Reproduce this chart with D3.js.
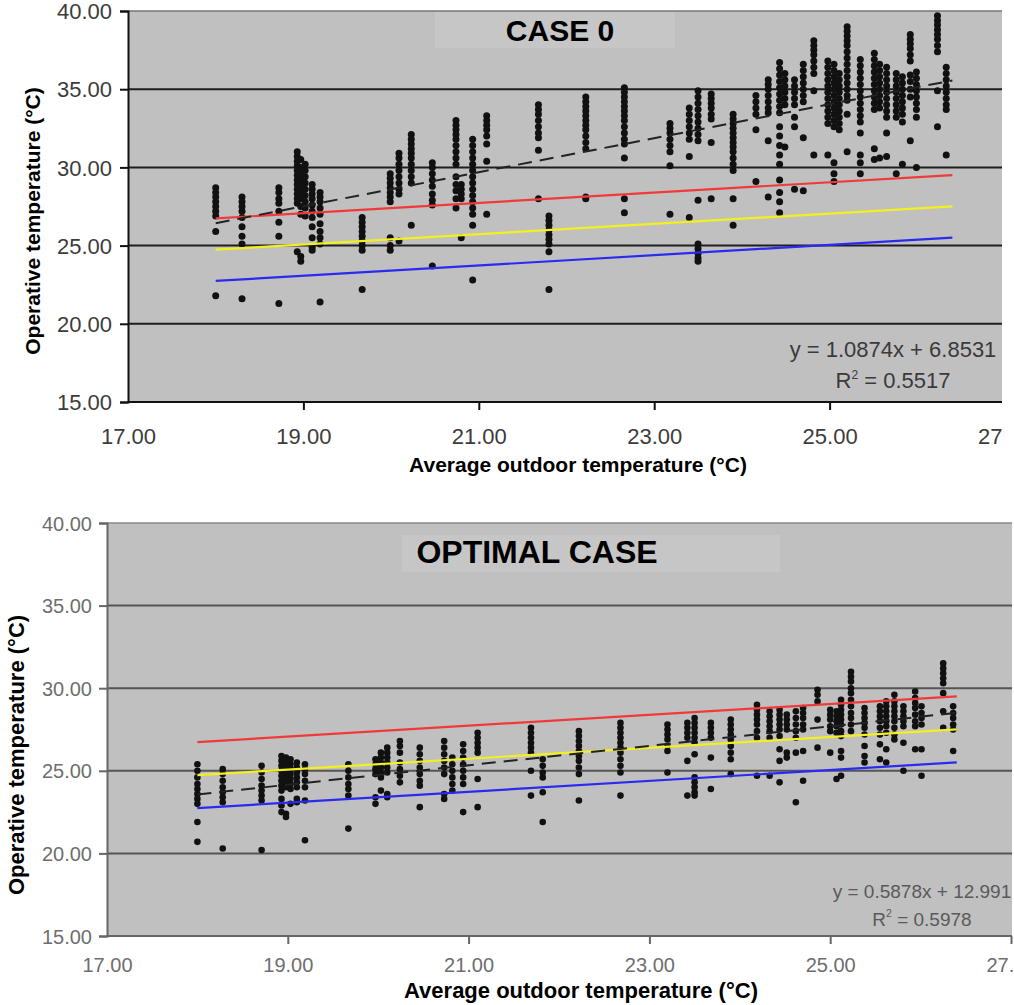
<!DOCTYPE html>
<html>
<head>
<meta charset="utf-8">
<script src="https://cdn.jsdelivr.net/npm/d3@7"></script>
<style>
  body { margin: 0; background: #fff; }
  svg { display: block; font-family: Arial, "Liberation Sans", sans-serif; }
</style>
</head>
<body>
<svg id="chart"></svg>
<script>
const WIDTH = 1014
const HEIGHT = 1005

// x axis ticks and y axis ticks shared by both charts
const xTicks = [17, 19, 21, 23, 25, 27]
const yTicks = [15, 20, 25, 30, 35, 40]

// comfort band lines (start / end of the outdoor temperature range)
const bandX = [18.0, 26.4]
const upperLimit = [26.74, 29.51]
const neutralLine = [24.74, 27.51]
const lowerLimit = [22.74, 25.51]

// trend lines for each case
const trendCase0 = [26.43, 35.56]
const trendOptimal = [23.57, 28.51]

const eqCase0 = ["y = 1.0874x + 6.8531", "0.5517"]
const eqOptimal = ["y = 0.5878x + 12.991", "0.5978"]

// CASE 0: each entry is [outdoor temp, operative temps measured that day]
const case0 = [
  [18.0, [28.7, 28.4, 28.1, 27.8, 27.5, 27.2, 26.9, 25.9, 21.8]],
  [18.3, [28.1, 27.8, 27.5, 27.2, 26.8, 26.2, 25.6, 25.1, 21.6]],
  [18.72, [28.7, 28.4, 28.0, 27.7, 27.2, 26.5, 25.6, 21.3]],
  [18.93, [31.0, 30.7, 30.4, 30.1, 29.8, 29.5, 29.2, 28.9, 28.6, 28.3, 28.0, 27.7, 24.6]],
  [18.97, [30.5, 30.0, 29.6, 29.2, 28.8, 28.4, 28.0, 27.5, 27.0, 24.3, 24.0]],
  [19.02, [30.2, 29.8, 29.4, 29.0, 28.6, 28.2, 27.8, 27.4, 26.9]],
  [19.1, [28.9, 28.6, 28.3, 28.0, 27.6, 27.2, 26.8, 26.2, 25.5, 24.9, 24.7]],
  [19.19, [28.4, 28.1, 27.8, 27.4, 27.0, 26.4, 25.9, 25.5, 25.1, 21.4]],
  [19.67, [26.8, 26.5, 26.2, 25.9, 25.6, 25.3, 25.0, 24.7, 22.2]],
  [19.99, [29.6, 29.3, 29.0, 28.7, 28.4, 28.1, 27.8, 25.5, 25.0, 24.7]],
  [20.09, [30.9, 30.6, 30.2, 29.8, 29.4, 29.0, 28.6, 28.3, 25.3]],
  [20.23, [32.1, 31.8, 31.5, 31.2, 30.9, 30.6, 30.2, 29.8, 29.4, 29.0, 26.3]],
  [20.47, [30.3, 30.0, 29.6, 29.2, 28.8, 28.3, 27.9, 27.6, 23.7]],
  [20.74, [33.0, 32.7, 32.4, 32.1, 31.8, 31.4, 31.0, 30.6, 30.2, 29.4, 28.9, 28.5, 28.0, 27.4]],
  [20.8, [28.9, 28.6, 28.3, 28.0, 25.5]],
  [20.93, [31.8, 31.4, 31.0, 30.6, 30.2, 29.8, 29.4, 29.0, 28.6, 28.2, 27.8, 27.4, 27.0, 26.3, 22.8]],
  [21.09, [33.3, 33.0, 32.7, 32.4, 32.0, 31.5, 30.4, 27.0]],
  [21.68, [34.0, 33.7, 33.4, 33.0, 32.6, 32.2, 31.9, 31.1, 28.0]],
  [21.8, [26.9, 26.6, 26.3, 26.0, 25.7, 25.4, 25.1, 24.6, 22.2]],
  [22.22, [34.5, 34.2, 33.9, 33.6, 33.3, 33.0, 32.7, 32.4, 32.0, 31.6, 31.2, 28.1, 28.0]],
  [22.66, [35.1, 34.8, 34.5, 34.2, 33.9, 33.6, 33.3, 33.0, 32.6, 32.2, 31.8, 31.5, 30.6, 28.0, 27.1]],
  [23.18, [32.8, 32.5, 32.2, 31.8, 31.4, 31.0, 30.1, 27.0]],
  [23.4, [33.8, 33.4, 33.0, 32.6, 32.2, 31.8, 30.7, 26.8]],
  [23.5, [34.9, 34.5, 34.1, 33.7, 33.3, 32.9, 32.5, 32.1, 31.7, 27.9, 25.1, 24.8, 24.5, 24.2, 24.0]],
  [23.65, [34.7, 34.4, 34.1, 33.8, 33.4, 33.1, 31.6, 28.0]],
  [23.9, [33.4, 33.1, 32.8, 32.5, 32.2, 31.9, 31.6, 31.3, 31.0, 30.6, 30.2, 29.8, 28.0, 26.3]],
  [24.16, [34.6, 34.2, 33.8, 33.4, 32.4, 29.1]],
  [24.3, [35.6, 35.3, 35.0, 34.6, 34.2, 33.8, 33.5, 31.7, 28.1]],
  [24.43, [36.7, 36.3, 35.9, 35.5, 35.1, 34.7, 34.3, 33.9, 33.5, 32.6, 32.0, 31.4, 30.8, 30.2, 29.2, 28.4, 27.8, 27.1]],
  [24.49, [36.0, 35.6, 35.2, 34.8, 34.4, 34.0, 31.3]],
  [24.6, [35.6, 35.2, 34.8, 34.4, 34.0, 33.2, 32.6, 28.6]],
  [24.7, [36.6, 36.2, 35.8, 35.4, 35.0, 34.6, 34.2, 31.9, 28.5]],
  [24.82, [38.1, 37.8, 37.5, 37.2, 36.8, 36.4, 36.0, 34.9, 30.8]],
  [24.98, [36.8, 36.4, 36.0, 35.6, 35.2, 34.8, 34.4, 34.0, 33.6, 33.2, 32.8, 30.8]],
  [25.05, [36.6, 36.2, 35.8, 35.4, 35.0, 34.6, 34.2, 33.8, 33.4, 33.0, 32.6, 30.3, 29.6, 29.1]],
  [25.11, [36.0, 35.6, 35.2, 34.8, 34.4, 34.0, 33.6, 33.2, 32.8, 32.4]],
  [25.2, [39.0, 38.7, 38.4, 38.1, 37.8, 37.4, 37.0, 36.6, 36.2, 35.8, 35.4, 35.0, 34.6, 34.3, 33.4, 31.0]],
  [25.35, [36.9, 36.5, 36.1, 35.7, 35.3, 34.9, 34.5, 34.1, 33.7, 33.3, 32.9, 32.2, 30.8, 30.3, 29.6]],
  [25.51, [37.3, 36.9, 36.5, 36.1, 35.7, 35.3, 34.9, 34.5, 34.1, 33.7, 31.2, 30.5]],
  [25.57, [36.6, 36.2, 35.8, 35.4, 35.0, 34.6, 34.2, 33.8, 30.6]],
  [25.65, [36.4, 36.0, 35.6, 35.2, 34.8, 34.4, 34.0, 33.6, 33.2, 32.2, 30.7]],
  [25.76, [36.0, 35.6, 35.2, 34.8, 34.4, 34.0, 33.6, 33.2, 29.6]],
  [25.83, [35.8, 35.4, 35.0, 34.6, 34.2, 33.8, 33.4, 32.9, 30.2]],
  [25.92, [38.5, 38.2, 37.9, 37.6, 37.2, 36.8, 35.9, 35.5, 35.0, 34.5, 31.7]],
  [25.99, [36.1, 35.7, 35.3, 34.9, 34.5, 34.1, 33.7, 33.2, 30.0]],
  [26.23, [39.7, 39.4, 39.1, 38.8, 38.5, 38.2, 37.8, 37.4, 34.9, 32.6]],
  [26.33, [36.4, 36.0, 35.6, 35.2, 34.8, 34.4, 34.0, 33.7, 30.8]],
]

// OPTIMAL CASE
const optimal = [
  [18.0, [25.4, 25.0, 24.6, 24.2, 23.9, 23.6, 23.3, 23.0, 21.9, 20.7]],
  [18.28, [25.1, 24.8, 24.4, 24.0, 23.7, 23.4, 23.1, 20.3]],
  [18.71, [25.3, 24.9, 24.5, 24.1, 23.8, 23.5, 23.2, 20.2]],
  [18.93, [25.9, 25.6, 25.3, 25.0, 24.7, 24.4, 24.1, 23.8, 23.3, 22.9, 22.5]],
  [18.98, [25.8, 25.5, 25.2, 24.9, 24.6, 24.3, 24.0, 22.4, 22.2]],
  [19.03, [25.7, 25.4, 25.1, 24.8, 24.5, 24.2, 23.9, 23.0]],
  [19.1, [25.5, 25.2, 24.9, 24.6, 24.3, 24.0, 23.3, 23.1]],
  [19.19, [25.4, 25.1, 24.8, 24.4, 24.0, 23.2, 20.8]],
  [19.67, [25.4, 25.0, 24.6, 24.2, 23.9, 23.5, 21.5]],
  [19.97, [25.7, 25.4, 25.1, 24.8, 23.4, 23.0]],
  [20.03, [26.1, 25.8, 25.5, 25.2, 24.9, 24.6, 23.8]],
  [20.1, [26.4, 26.1, 25.8, 25.5, 25.2, 24.9, 23.6, 23.4]],
  [20.24, [26.8, 26.5, 26.1, 25.5, 25.1, 24.7, 24.3]],
  [20.46, [26.4, 26.0, 25.6, 25.2, 24.8, 24.4, 24.1, 22.8]],
  [20.73, [26.8, 26.4, 26.0, 25.6, 25.2, 24.8, 23.6, 23.3]],
  [20.82, [25.8, 25.4, 25.0, 24.6, 24.2, 23.8]],
  [20.94, [26.6, 26.2, 25.8, 25.4, 25.0, 24.6, 24.2, 22.5]],
  [21.1, [27.3, 27.0, 26.7, 26.4, 26.1, 24.5, 22.8]],
  [21.69, [27.6, 27.3, 27.0, 26.7, 26.4, 26.1, 25.0, 23.5]],
  [21.82, [25.7, 25.3, 24.9, 24.6, 23.7, 21.9]],
  [22.22, [27.4, 27.1, 26.8, 26.5, 26.2, 25.9, 25.6, 25.2, 24.8, 23.2]],
  [22.68, [27.9, 27.6, 27.3, 27.0, 26.7, 26.4, 26.1, 25.7, 25.3, 24.9, 23.5]],
  [23.2, [27.8, 27.5, 27.2, 26.9, 26.5, 26.2, 24.9]],
  [23.42, [27.9, 27.6, 27.3, 27.0, 25.6, 23.5]],
  [23.5, [28.2, 27.9, 27.6, 27.3, 27.0, 26.7, 26.0, 24.6, 24.3, 24.0, 23.7, 23.5]],
  [23.68, [27.9, 27.6, 27.3, 27.0, 25.8, 23.9]],
  [23.9, [28.1, 27.8, 27.5, 27.2, 26.9, 26.5, 26.1, 25.7, 24.8]],
  [24.19, [29.0, 28.7, 28.4, 28.1, 27.8, 27.4, 27.0, 24.7]],
  [24.33, [28.6, 28.3, 28.0, 27.7, 27.4, 27.0, 24.7]],
  [24.44, [28.7, 28.4, 28.1, 27.8, 27.5, 27.1, 26.3, 25.6, 24.3]],
  [24.52, [28.4, 28.1, 27.8, 27.5, 26.1, 25.8]],
  [24.62, [28.6, 28.2, 27.8, 27.4, 27.0, 26.1, 23.1]],
  [24.7, [28.8, 28.5, 28.2, 27.8, 27.5, 26.2, 24.4]],
  [24.86, [29.9, 29.6, 29.2, 28.1, 26.4]],
  [25.0, [28.7, 28.4, 28.1, 27.7, 27.4, 26.1]],
  [25.07, [28.6, 28.3, 28.0, 27.7, 27.3, 24.5]],
  [25.12, [29.3, 29.0, 28.7, 28.4, 28.1, 27.8, 27.4, 27.1, 26.2, 25.8, 24.7]],
  [25.23, [31.0, 30.7, 30.4, 30.0, 29.7, 29.3, 28.9, 28.5, 28.2, 27.8, 27.4]],
  [25.38, [28.8, 28.5, 28.2, 27.9, 27.6, 27.2, 26.5, 25.9, 25.5]],
  [25.55, [28.9, 28.6, 28.3, 28.0, 27.6, 27.2, 26.6, 25.7]],
  [25.62, [29.2, 28.9, 28.6, 28.3, 28.0, 27.7, 27.3, 26.3, 25.5]],
  [25.71, [29.6, 29.2, 28.9, 28.6, 28.3, 28.0, 27.6, 27.2, 26.9]],
  [25.81, [28.9, 28.6, 28.3, 28.0, 27.7, 26.7, 25.0]],
  [25.94, [29.8, 29.4, 29.1, 28.8, 28.4, 28.0, 27.7, 26.3]],
  [26.01, [28.9, 28.5, 28.2, 27.8, 26.3, 24.7]],
  [26.25, [31.5, 31.2, 30.9, 30.6, 30.3, 29.7, 28.6, 27.6]],
  [26.36, [28.9, 28.5, 28.2, 27.8, 27.5, 26.2]],
]

const svg = d3.select("#chart").attr("width", WIDTH).attr("height", HEIGHT)

// draws one chart; everything about position/look is in cfg
function drawPanel(cfg) {
  const x = d3.scaleLinear().domain([17, 27]).range([cfg.left, cfg.x27])
  const y = d3.scaleLinear().domain([15, 40]).range([cfg.bottom, cfg.top])

  const clipId = "clip-" + cfg.id
  svg.append("clipPath").attr("id", clipId)
    .append("rect").attr("x", 0).attr("y", cfg.top - 30)
    .attr("width", cfg.clipRight).attr("height", cfg.bottom - cfg.top + 130)

  const g = svg.append("g").attr("clip-path", `url(#${clipId})`)

  // plot background
  g.append("rect")
    .attr("x", cfg.left).attr("y", cfg.top)
    .attr("width", cfg.plotRight - cfg.left).attr("height", cfg.bottom - cfg.top)
    .attr("fill", "#c0c0c0")

  // the lighter box behind the title
  g.append("rect")
    .attr("x", cfg.titleBox[0]).attr("y", cfg.titleBox[1])
    .attr("width", cfg.titleBox[2]).attr("height", cfg.titleBox[3])
    .attr("fill", "#c6c6c6")

  // gridlines
  g.selectAll(".grid")
    .data(yTicks.filter((t) => t > 15))
    .join("line")
    .attr("x1", cfg.left).attr("x2", cfg.plotRight)
    .attr("y1", (d) => y(d)).attr("y2", (d) => y(d))
    .attr("stroke", (d) => (d === 40 ? cfg.topBorder : cfg.gridColor))
    .attr("stroke-width", (d) => (d === 40 ? 1.5 : 2))

  // axes
  const yAxis = d3.axisLeft(y).tickValues(yTicks).tickSize(8).tickFormat(d3.format(".2f"))
  const xAxis = d3.axisBottom(x).tickValues(xTicks).tickSize(8).tickFormat(d3.format(".2f"))

  const ya = g.append("g").attr("transform", `translate(${cfg.left},0)`).call(yAxis)
  const xa = g.append("g").attr("transform", `translate(0,${cfg.bottom})`).call(xAxis)
  ya.select(".domain").attr("stroke", cfg.axisColor).attr("stroke-width", 2)
  xa.select(".domain").attr("stroke", cfg.axisColor).attr("stroke-width", 2)
    .attr("d", `M${cfg.left},0H${cfg.plotRight}`)
  for (const a of [ya, xa]) {
    a.selectAll(".tick line").attr("stroke", cfg.axisColor).attr("stroke-width", 2)
    a.selectAll(".tick text")
      .attr("fill", cfg.tickColor)
      .style("font-size", cfg.tickFont + "px")
  }
  ya.selectAll(".tick text").attr("x", -cfg.yTickGap).attr("dy", "0.35em")
  xa.selectAll(".tick text").attr("y", cfg.xTickGap).attr("dy", "0.71em")
  xa.selectAll(".tick").filter((d) => d === 17).select("line").remove()

  // scatter points
  const pts = cfg.data.flatMap(([t, temps]) => temps.map((v) => ({ t, v })))
  g.selectAll(".pt")
    .data(pts)
    .join("circle")
    .attr("cx", (d) => x(d.t))
    .attr("cy", (d) => y(d.v))
    .attr("r", cfg.r)
    .attr("fill", "#111")

  // comfort lines
  const bands = [
    [upperLimit, "#f03a3a"],
    [neutralLine, "#f2f020"],
    [lowerLimit, "#2a2af0"],
  ]
  for (const [vals, color] of bands) {
    g.append("line")
      .attr("x1", x(bandX[0])).attr("x2", x(bandX[1]))
      .attr("y1", y(vals[0])).attr("y2", y(vals[1]))
      .attr("stroke", color).attr("stroke-width", 2.2)
  }

  // linear trend
  g.append("line")
    .attr("x1", x(bandX[0])).attr("x2", x(bandX[1]))
    .attr("y1", y(cfg.trend[0])).attr("y2", y(cfg.trend[1]))
    .attr("stroke", "#222").attr("stroke-width", 2)
    .attr("stroke-dasharray", "14,8")

  // equation text
  g.append("text")
    .attr("x", cfg.eqX).attr("y", cfg.eqY)
    .attr("text-anchor", "middle").attr("fill", cfg.eqColor)
    .style("font-size", cfg.eqFont + "px")
    .text(cfg.eq[0])
  const r2 = g.append("text")
    .attr("x", cfg.eqX).attr("y", cfg.eqY + cfg.eqGap)
    .attr("text-anchor", "middle").attr("fill", cfg.eqColor)
    .style("font-size", cfg.eqFont + "px")
  r2.append("tspan").text("R")
  r2.append("tspan").attr("dy", -9).style("font-size", cfg.eqFont * 0.55 + "px").text("2")
  r2.append("tspan").attr("dy", 9).text(" = " + cfg.eq[1])

  // title
  g.append("text")
    .attr("x", cfg.titleX).attr("y", cfg.titleY)
    .attr("text-anchor", "middle").attr("font-weight", "bold")
    .style("font-size", cfg.titleFont + "px")
    .text(cfg.title)

  // axis titles
  g.append("text")
    .attr("x", cfg.xTitle[0]).attr("y", cfg.xTitle[1])
    .attr("text-anchor", "middle").attr("font-weight", "bold")
    .style("font-size", cfg.axisFont + "px")
    .text("Average outdoor temperature (°C)")
  g.append("text")
    .attr("transform", `translate(${cfg.yTitle[0]},${cfg.yTitle[1]}) rotate(-90)`)
    .attr("text-anchor", "middle").attr("font-weight", "bold")
    .style("font-size", cfg.axisFont + "px")
    .text("Operative temperature (°C)")
}

drawPanel({
  id: "case0", data: case0, trend: trendCase0, eq: eqCase0, title: "CASE 0",
  left: 128, x27: 1005, plotRight: 1002, clipRight: 1003, top: 11, bottom: 402,
  gridColor: "#1e1e1e", topBorder: "#777", axisColor: "#111",
  tickColor: "#3c3c3c", tickFont: 22, yTickGap: 16, xTickGap: 26,
  r: 3.5, eqX: 893, eqY: 357, eqGap: 31, eqFont: 22, eqColor: "#3a3a3a",
  titleBox: [435, 12, 240, 36], titleX: 560, titleY: 41, titleFont: 30,
  xTitle: [578, 472], yTitle: [40, 221], axisFont: 21,
})

drawPanel({
  id: "optimal", data: optimal, trend: trendOptimal, eq: eqOptimal, title: "OPTIMAL CASE",
  left: 107, x27: 1011, plotRight: 1012, clipRight: 1014, top: 523, bottom: 936,
  gridColor: "#555", topBorder: "#888", axisColor: "#666",
  tickColor: "#6e6e6e", tickFont: 20, yTickGap: 15, xTickGap: 22,
  r: 3.3, eqX: 922, eqY: 898, eqGap: 28, eqFont: 19, eqColor: "#5a5a5a",
  titleBox: [402, 535, 378, 37], titleX: 537, titleY: 563, titleFont: 32,
  xTitle: [581, 998], yTitle: [24, 755], axisFont: 22,
})
</script>
</body>
</html>
